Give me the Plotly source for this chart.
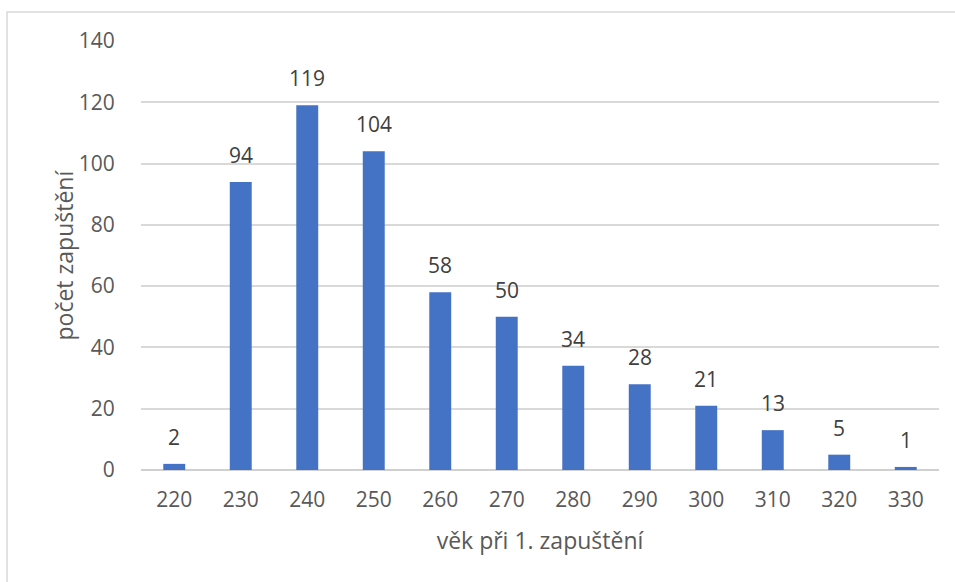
import plotly.graph_objects as go

# Age at first insemination (days) and number of animals
ages = ["220", "230", "240", "250", "260", "270", "280", "290", "300", "310", "320", "330"]
counts = [2, 94, 119, 104, 58, 50, 34, 28, 21, 13, 5, 1]

y_ticks = [0, 20, 40, 60, 80, 100, 120, 140]

W, H = 955, 582
L, R, T, B = 141, 16, 41, 112
pw, ph = W - L - R, H - T - B

FONT = "Open Sans"
TEXT = "#595959"
BAR = "#4472C4"
TICK_SIZE = 21
TITLE_SIZE = 23

fig = go.Figure()
fig.add_trace(go.Bar(
    x=ages, y=counts,
    marker=dict(color=BAR, line=dict(width=0)),
    hoverinfo="x+y",
))

# value labels above each bar (category axis positions are indices)
for i, c in enumerate(counts):
    fig.add_annotation(
        x=i, y=c, text=str(c), showarrow=False,
        yanchor="middle", yshift=27,
        font=dict(family=FONT, size=TICK_SIZE, color="#404040"),
    )

# y-axis title, placed closer to the tick labels than standoff allows
fig.add_annotation(
    xref="paper", yref="paper", x=(63 - L) / pw, y=0.5,
    text="počet zapuštění", textangle=-90, showarrow=False,
    xanchor="center", yanchor="middle",
    font=dict(family=FONT, size=TITLE_SIZE, color=TEXT),
)

# light frame around the chart area
fig.add_shape(
    type="rect", xref="paper", yref="paper",
    x0=(7 - L) / pw, x1=1 + 40 / pw,
    y0=-(H + 40 - (T + ph)) / ph, y1=(T + ph - 12) / ph,
    line=dict(color="#d9d9d9", width=1.5), fillcolor="rgba(0,0,0,0)",
    layer="below",
)

fig.update_layout(
    width=W, height=H,
    margin=dict(l=L, r=R, t=T, b=B),
    paper_bgcolor="white", plot_bgcolor="white",
    bargap=0.67, showlegend=False,
    font=dict(family=FONT, size=TICK_SIZE, color=TEXT),
)
fig.update_xaxes(
    type="category", range=[-0.5, len(ages) - 0.5],
    showgrid=False, showline=False, zeroline=False,
    ticks="outside", ticklen=11, tickcolor="rgba(0,0,0,0)", tickangle=0,
    tickfont=dict(family=FONT, size=TICK_SIZE, color=TEXT),
    title=dict(text="věk při 1. zapuštění", standoff=20,
               font=dict(family=FONT, size=TITLE_SIZE, color=TEXT)),
)
fig.update_yaxes(
    range=[0, 140], tickvals=y_ticks, showgrid=True,
    gridcolor="#d9d9d9", gridwidth=1.5,
    zeroline=True, zerolinecolor="#d0d0d0", zerolinewidth=2,
    showline=False, ticks="outside", ticklen=21, tickcolor="rgba(0,0,0,0)",
    tickfont=dict(family=FONT, size=TICK_SIZE, color=TEXT),
)

fig.write_html("out.html")
